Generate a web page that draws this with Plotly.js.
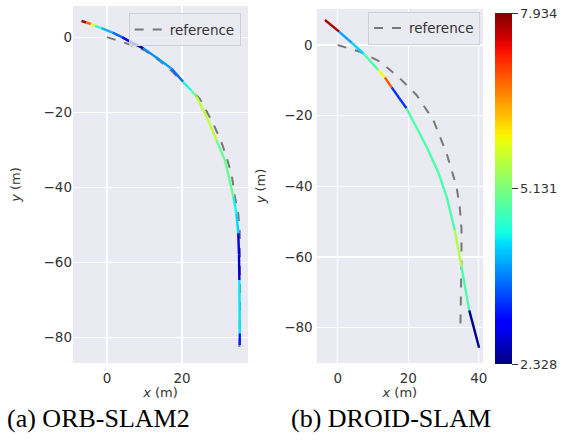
<!DOCTYPE html>
<html><head><meta charset="utf-8">
<script src="https://cdn.plot.ly/plotly-3.0.1.min.js"></script>
<style>html,body{margin:0;padding:0;background:#fff}#chart{width:563px;height:443px}</style>
</head><body><div id="chart"></div>
<script>
// ORB-SLAM2 estimated trajectory (m) and per-point error
const orbX   = [-6.8, -5.5, -4.3, -3.2, -1.5, 1.5, 4.0, 6.5, 9.7, 14.1, 17.2, 20.3, 22.5, 23.9, 26.5, 29.2, 31.5, 33.7, 34.5, 35.0, 35.2, 35.3, 35.4, 35.4, 35.4];
const orbY   = [4.3, 3.9, 3.5, 3.0, 2.4, 1.2, 0.0, -1.4, -3.0, -6.1, -8.4, -11.9, -14.3, -15.9, -21.0, -27.5, -33.0, -42.6, -47.0, -52.3, -58.0, -64.8, -72.0, -79.0, -82.1];
const orbErr = [7.7, 6.8, 5.9, 4.6, 4.0, 3.6, 3.0, 2.6, 3.8, 3.9, 3.6, 4.5, 5.0, 5.6, 5.6, 5.0, 5.0, 4.4, 4.2, 2.8, 2.7, 4.3, 4.3, 3.2, 3.2];
// ORB-SLAM2 reference
const orbRefX = [0, 5, 10, 14, 17.5, 21, 24.8, 28.3, 30.5, 31.9, 33.3, 34.1, 35.0, 35.4, 35.5, 35.5, 35.3];
const orbRefY = [0, -1.6, -3.5, -6.3, -9.3, -12.8, -16.5, -23, -28, -32, -37, -42.6, -47, -52, -58.6, -70, -82.6];

// DROID-SLAM estimated trajectory (m) and per-point error
const droidX   = [-3.6, 0.4, 4.0, 7.3, 11.5, 13.4, 15.3, 19.5, 25.2, 28.5, 30.9, 33.2, 35.1, 37.3, 40.1];
const droidY   = [7.1, 3.8, 0.6, -2.4, -7.1, -9.2, -12.0, -17.9, -28.8, -36.0, -43.0, -52.4, -62.8, -75.1, -85.7];
const droidErr = [7.7, 3.9, 4.2, 4.8, 5.9, 6.9, 3.3, 4.8, 4.8, 4.8, 4.8, 5.5, 4.8, 2.4, 2.4];
// DROID-SLAM reference
const droidRefX = [0, 6.3, 12, 17.6, 22.4, 27.1, 30.9, 33.7, 34.6, 35.1, 35.1, 34.9, 34.8];
const droidRefY = [0, -1.9, -4.7, -9.4, -14.2, -21.2, -30.7, -40.1, -45.8, -52, -60, -70, -79.8];

const errMin = 2.328, errMax = 7.934;
const cbTicks = [2.328, 5.131, 7.934];
const cbTickText = ['2.328', '5.131', '7.934'];
const captions = ['(a) ORB-SLAM2', '(b) DROID-SLAM'];

// matplotlib "jet"
function interp(t, pts){
  for (let i=0;i<pts.length-1;i++){
    if (t>=pts[i][0] && t<=pts[i+1][0]){
      const f=(t-pts[i][0])/(pts[i+1][0]-pts[i][0]);
      return pts[i][1]+f*(pts[i+1][1]-pts[i][1]);
    }
  }
  return pts[pts.length-1][1];
}
const R=[[0,0],[0.35,0],[0.66,1],[0.89,1],[1,0.5]];
const G=[[0,0],[0.125,0],[0.375,1],[0.64,1],[0.91,0],[1,0]];
const B=[[0,0.5],[0.11,1],[0.34,1],[0.65,0],[1,0]];
function jet(t){
  t=Math.max(0,Math.min(1,t));
  return 'rgb('+Math.round(255*interp(t,R))+','+Math.round(255*interp(t,G))+','+Math.round(255*interp(t,B))+')';
}
const jetScale=[];
for(let i=0;i<=40;i++){const t=i/40;jetScale.push([t,jet(t)]);}
function colorOf(v){return jet((v-errMin)/(errMax-errMin));}

function segTraces(xs, ys, errs, xa, ya){
  const out=[];
  let i=0;
  while(i<xs.length-1){
    let j=i;
    while(j+1<xs.length-1 && errs[j+1]===errs[i]) j++;
    out.push({type:'scatter',mode:'lines',x:xs.slice(i,j+2),y:ys.slice(i,j+2),
      xaxis:xa,yaxis:ya,showlegend:false,hoverinfo:'skip',
      line:{color:colorOf(errs[i]),width:2.4}});
    i=j+1;
  }
  return out;
}

const dashGray='#787878';
const traces=[
  {type:'scatter',mode:'lines',x:orbRefX,y:orbRefY,xaxis:'x',yaxis:'y',name:'reference',
   line:{color:dashGray,width:2,dash:'dash'},legend:'legend'},
  ...segTraces(orbX,orbY,orbErr,'x','y'),
  {type:'scatter',mode:'lines',x:droidRefX,y:droidRefY,xaxis:'x2',yaxis:'y2',name:'reference',
   line:{color:dashGray,width:2,dash:'dash'},legend:'legend2'},
  ...segTraces(droidX,droidY,droidErr,'x2','y2'),
  {type:'scatter',mode:'markers',x:[droidX[0],droidX[0]],y:[droidY[0],droidY[0]],xaxis:'x2',yaxis:'y2',
   showlegend:false,hoverinfo:'skip',
   marker:{size:1,opacity:0,color:[errMin,errMax],cmin:errMin,cmax:errMax,colorscale:jetScale,showscale:true,
     colorbar:{x:495/563,xanchor:'left',y:1-13/443,yanchor:'top',len:351/443,lenmode:'fraction',
       thickness:17,xpad:0,ypad:0,outlinewidth:0,ticks:'outside',ticklen:6,tickcolor:'#333',
       tickvals:cbTicks,ticktext:cbTickText,tickfont:{family:'DejaVu Sans',size:13,color:'#333'}}}}
];

const W=563,H=443;
const tickFont={family:'DejaVu Sans',size:13.5,color:'#333'};
const titleFont={family:'DejaVu Sans',size:13,color:'#333'};
const axisBase={showgrid:true,gridcolor:'#ffffff',gridwidth:1.2,zeroline:false,showline:false,ticks:'',
  tickfont:tickFont,autorange:false};
const layout={
  width:W,height:H,margin:{l:0,r:0,t:0,b:0},
  paper_bgcolor:'#ffffff',plot_bgcolor:'#EAEAF2',
  font:{family:'DejaVu Sans',color:'#333'},
  xaxis:Object.assign({},axisBase,{domain:[73/W,248/W],range:[-9.07,37.6],tickvals:[0,20],anchor:'y',
    ticklabelstandoff:5,title:{text:'<i>x</i> (m)',font:titleFont,standoff:3}}),
  yaxis:Object.assign({},axisBase,{domain:[1-363/H,1-6/H],range:[-86.9,8.3],tickvals:[0,-20,-40,-60,-80],anchor:'x',
    title:{text:'<i>y</i> (m)',font:titleFont,standoff:19}}),
  xaxis2:Object.assign({},axisBase,{domain:[316.7/W,483/W],range:[-5.95,41.2],tickvals:[0,20,40],anchor:'y2',
    ticklabelstandoff:5,title:{text:'<i>x</i> (m)',font:titleFont,standoff:3}}),
  yaxis2:Object.assign({},axisBase,{domain:[1-363/H,1-9/H],range:[-90,10.2],tickvals:[0,-20,-40,-60,-80],anchor:'x2',
    ticklabelstandoff:3,title:{text:'<i>y</i> (m)',font:titleFont,standoff:15}}),
  legend:{x:240.7/W,xanchor:'right',y:1-13.3/H,yanchor:'top',bgcolor:'rgba(234,234,242,0.8)',
    bordercolor:'#cfcfd6',borderwidth:1,font:{family:'DejaVu Sans',size:13.5,color:'#333'}},
  legend2:{x:480/W,xanchor:'right',y:1-11.7/H,yanchor:'top',bgcolor:'rgba(234,234,242,0.8)',
    bordercolor:'#cfcfd6',borderwidth:1,font:{family:'DejaVu Sans',size:13.5,color:'#333'}},
  annotations:[
    {text:captions[0],xref:'paper',yref:'paper',x:98/W,y:1-418/H,xanchor:'center',yanchor:'middle',showarrow:false,
     font:{family:'Liberation Serif',size:26,color:'#000'}},
    {text:captions[1],xref:'paper',yref:'paper',x:391/W,y:1-418/H,xanchor:'center',yanchor:'middle',showarrow:false,
     font:{family:'Liberation Serif',size:26,color:'#000'}}
  ],
  showlegend:true
};
Plotly.newPlot('chart',traces,layout,{staticPlot:true,displayModeBar:false});
</script></body></html>
